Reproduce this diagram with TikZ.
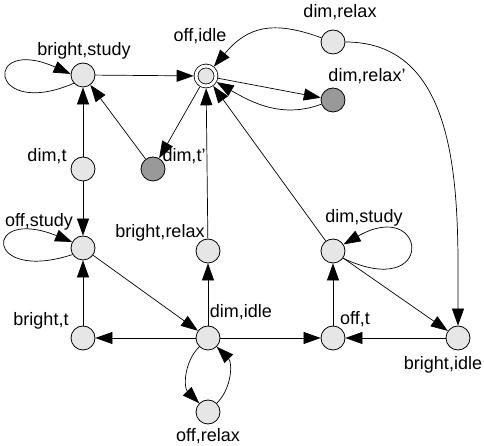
\documentclass[tikz,border=0pt]{standalone}
\usepackage{fontspec}
\setmainfont{Liberation Sans}
\usetikzlibrary{arrows.meta}
\definecolor{StateFill}{HTML}{E6E6E6}
\definecolor{StateDark}{HTML}{999999}

\begin{document}
\begin{tikzpicture}[x=1pt,y=1pt,
    state/.style={circle,draw,line width=0.8pt,fill=StateFill,minimum size=24pt,inner sep=0pt},
    dark/.style={state,fill=StateDark},
    lbl/.style={anchor=base,inner sep=0pt,font=\fontsize{18}{20}\selectfont},
    arr/.style={line width=0.7pt,-{Triangle[length=17pt,width=12pt]}}]
  \useasboundingbox (0,0) rectangle (484,446);
  % states
  \node[state] (bs) at (83,371) {};
  \node[state,minimum size=20pt,double=white,double distance=3pt,outer sep=2.3pt] (oi) at (206,370) {};
  \node[state] (dr) at (333,404) {};
  \node[dark] (drp) at (333,346) {};
  \node[state] (dt) at (83,277) {};
  \node[dark] (dtp) at (153,277) {};
  \node[state] (os) at (83,198) {};
  \node[state] (br) at (208,195) {};
  \node[state] (ds) at (333,195) {};
  \node[state] (bt) at (83,108) {};
  \node[state] (di) at (208,108) {};
  \node[state] (ot) at (333,108) {};
  \node[state] (bi) at (458,108) {};
  \node[state] (or) at (208,34) {};
  % labels
  \node[lbl] (lbs) at (84,390) {bright,study};
  \node[lbl] (loi) at (200,404) {off,idle};
  \node[lbl] (ldr) at (340,428) {dim,relax};
  \node[lbl] (ldrp) at (367,364) {dim,relax'};
  \node[lbl] (ldt) at (47,284) {dim,t};
  \node[lbl] (ldtp) at (184,284) {dim,t'};
  \node[lbl] (los) at (39,219) {off,study};
  \node[lbl] (lbr) at (160,208) {bright,relax};
  \node[lbl] (lds) at (364,223) {dim,study};
  \node[lbl] (lbt) at (41,120) {bright,t};
  \node[lbl] (ldi) at (241,128) {dim,idle};
  \node[lbl] (lot) at (355,121) {off,t};
  \node[lbl] (lbi) at (443,76) {bright,idle};
  \node[lbl] (lor) at (208,4) {off,relax};
  % transitions
  \draw[arr] (bs) -- (oi);
  \draw[arr] (oi) -- (dtp);
  \draw[arr] (dtp) -- (bs);
  \draw[arr] (dt) -- (bs);
  \draw[arr] (dt) -- (os);
  \draw[arr] (bt) -- (os);
  \draw[arr] (os) -- (di);
  \draw[arr] (di) -- (bt);
  \draw[arr] (di) -- (ot);
  \draw[arr] (di) -- (br);
  \draw[arr] (br) -- (oi);
  \draw[arr] (ot) -- (ds);
  \draw[arr] (ds) -- (oi);
  \draw[arr] (ds) -- (bi);
  \draw[arr] (bi) -- (ot);
  \draw[arr] (oi) -- (drp);
  \draw[arr] (drp) to[out=200,in=-30] (oi);
  \draw[arr] (dr) to[out=160,in=50,looseness=1.2] (oi);
  \draw[arr] (dr) to[out=0,in=90] (bi);
  \draw[arr] (di) to[bend right=45] (or);
  \draw[arr] (or) to[bend right=45] (di);
  % self loops
  \draw[arr] (bs.222) .. controls +(-86,-37) and +(-88,39) .. (bs.175);
  \draw[arr] (os.212) .. controls +(-89,-29) and +(-89,36) .. (os.151);
  \draw[arr] (ds.-36) .. controls +(94,-44) and +(84,48) .. (ds.32);
\end{tikzpicture}
\end{document}
